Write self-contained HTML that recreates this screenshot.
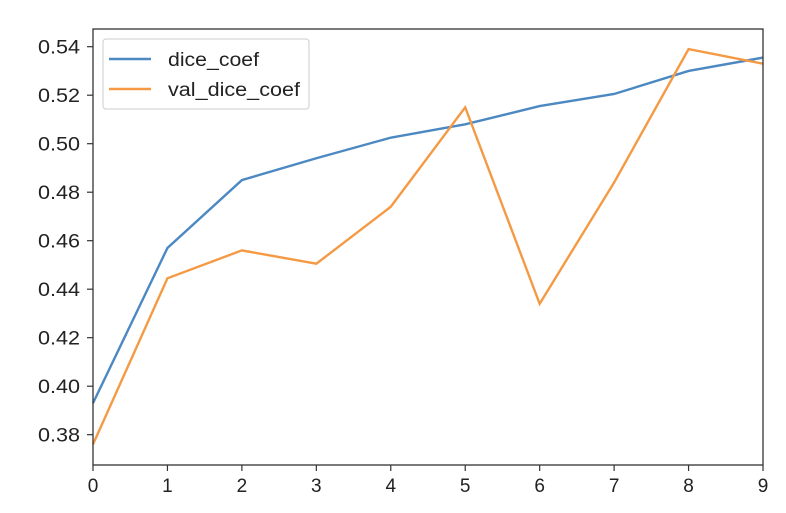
<!DOCTYPE html>
<html><head><meta charset="utf-8"><style>
body{margin:0;background:#fff;}
svg text{font-family:"Liberation Sans",Arial,sans-serif;font-size:19px;fill:#222;}
</style></head><body>
<svg id="chart" width="786" height="508" xmlns="http://www.w3.org/2000/svg"></svg>
<script>
const epochs=[0,1,2,3,4,5,6,7,8,9];
const diceCoef=[0.393,0.457,0.485,0.494,0.5025,0.508,0.5155,0.5205,0.530,0.5355];
const valDiceCoef=[0.376,0.4445,0.456,0.4505,0.474,0.515,0.434,0.484,0.539,0.533];
const yTicks=[0.38,0.40,0.42,0.44,0.46,0.48,0.50,0.52,0.54];
const xTicks=[0,1,2,3,4,5,6,7,8,9];
const L=93,R=763,T=29,B=465,ymin=0.3675,ymax=0.5473;
const sx=v=>L+(v-0)/9*(R-L);
const sy=v=>B-(v-ymin)/(ymax-ymin)*(B-T);
const svg=document.getElementById('chart');
const NS='http://www.w3.org/2000/svg';
function mk(t,a){const e=document.createElementNS(NS,t);for(const k in a)e.setAttribute(k,a[k]);svg.appendChild(e);return e;}
yTicks.forEach(v=>{
 const l=mk('line',{x1:L-6,x2:L,y1:sy(v),y2:sy(v),stroke:'#333','stroke-width':1.2});
 
 
 const t=mk('text',{x:L-13,y:sy(v)+7,'text-anchor':'end',textLength:42,lengthAdjust:'spacingAndGlyphs'});t.textContent=v.toFixed(2);
 
 
});
xTicks.forEach(v=>{
 const l=mk('line',{x1:sx(v),x2:sx(v),y1:B,y2:B+6,stroke:'#333','stroke-width':1.2});
 
 
 const t=mk('text',{x:sx(v),y:B+27,'text-anchor':'middle'});t.textContent=v;
 
 
});
function series(d,c,n){
 const p=mk('polyline',{points:d.map((v,i)=>sx(epochs[i])+','+sy(v)).join(' '),fill:'none',stroke:c,'stroke-width':2.4});
 
 
}
series(diceCoef,'#4c88c2','dice-coef-line');
series(valDiceCoef,'#f59a44','val-dice-coef-line');
const fr=mk('rect',{x:L,y:T,width:R-L,height:B-T,fill:'none',stroke:'#333','stroke-width':1.3});


const lg=mk('rect',{x:103,y:39,width:206,height:70,rx:3,fill:'#fff','fill-opacity':0.8,stroke:'#ccc'});


[['dice_coef','#4c88c2',59,91],['val_dice_coef','#f59a44',89,132]].forEach(([n,c,y,w])=>{
 const l=mk('line',{x1:109,x2:151,y1:y,y2:y,stroke:c,'stroke-width':2.4});
 
 
 const t=mk('text',{x:168,y:y+7,textLength:w,lengthAdjust:'spacingAndGlyphs'});t.textContent=n;
 
 
});
</script>
</body></html>
